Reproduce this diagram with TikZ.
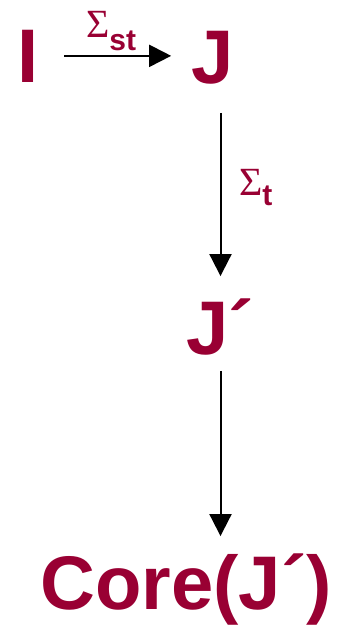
\documentclass[tikz,border=0pt]{standalone}
\usepackage{fontspec}
\setmainfont{Liberation Sans}
\newfontfamily\sigfont{Liberation Serif}
\usetikzlibrary{arrows.meta, positioning}
\definecolor{wine}{HTML}{990033}

\begin{document}
\begin{tikzpicture}[
    x=1pt, y=-1pt,
    term/.style={inner sep=0pt, anchor=base, text=wine, font=\fontsize{76}{76}\selectfont\bfseries},
    lbl/.style={inner sep=0pt, anchor=base west, text=wine},
    arrow/.style={line width=2pt, -{Triangle[length=22pt, width=22pt]}}
]
    \useasboundingbox (0,0) rectangle (344,625);

    \node[term] (I) at (28.5,82) {I};
    \node[term] (J) at (212.5,83) {J};
    \node[term] (Jp) at (220.5,354) {J´};
    \node[term] (core) at (186,609) {Core(J´)};

    \node[lbl] (sst) at (86,37) {{\sigfont\fontsize{40}{40}\selectfont Σ}\raisebox{-13pt}{\fontsize{30}{30}\selectfont\bfseries st}};
    \node[lbl] (st) at (239,195) {{\sigfont\fontsize{40}{40}\selectfont Σ}\raisebox{-10pt}{\fontsize{30}{30}\selectfont\bfseries t}};

    \draw[arrow, shorten <=25pt, shorten >=20pt] (I) -- (J.west |- I);
    \draw[arrow, shorten <=29pt, shorten >=22pt] (J.south -| Jp) -- (Jp.north);
    \draw[arrow, shorten <=16pt, shorten >=17pt] (Jp.south) -- (Jp.south |- core.north);

\end{tikzpicture}
\end{document}
